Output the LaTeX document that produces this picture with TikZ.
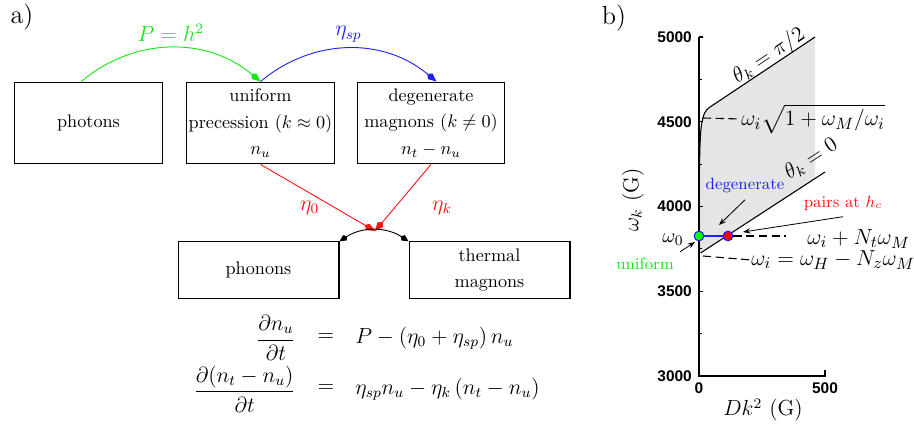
\documentclass[tikz,border=0pt]{standalone}
\usepackage{amsmath,amssymb}
\usepackage{fontspec}
\newfontfamily\tickfont{Liberation Sans}
\usetikzlibrary{arrows.meta, positioning}
\definecolor{pumpgreen}{RGB}{20,230,20}
\definecolor{spinblue}{RGB}{30,30,255}
\definecolor{relaxred}{RGB}{255,20,20}
\definecolor{shadegray}{RGB}{229,229,229}

\begin{document}
\begin{tikzpicture}[x=0.55pt, y=-0.55pt,
  box/.style={draw, line width=0.6pt, minimum width=81pt, minimum height=45pt,
    inner sep=0pt, align=center, font=\fontsize{10}{14.5}\selectfont},
  lowbox/.style={box, minimum width=88.5pt, minimum height=31pt},
  arw/.style={-{Kite[length=6.5pt, width=4pt, inset=2pt]}, line width=0.5pt},
  eqn/.style={font=\large, inner sep=0pt},
  dot/.style={circle, draw=spinblue, line width=0.6pt, minimum size=5.3pt,
    inner sep=0pt},
  lbl/.style={font=\fontsize{12.5}{14}\selectfont, inner sep=0pt},
  tick/.style={font=\tickfont\bfseries\fontsize{8.5}{10}\selectfont, inner sep=1pt},
  guide/.style={dash pattern=on 4.5pt off 2.5pt, line width=0.6pt},
  note/.style={-{Stealth[length=4pt, width=3pt]}, line width=0.45pt},
]
\useasboundingbox (0,0) rectangle (914,434);

% a) rate picture
\node[font=\Large] (tagA) at (22,17) {a)};
\node[box] (photons) at (88.5,123) {photons};
\node[box] (uniform) at (260.5,123) {uniform\\precession ($k\approx0$)\\$n_u$};
\node[box] (degen) at (431,123) {degenerate\\magnons ($k\neq0$)\\$n_t-n_u$};
\node[lowbox] (phonons) at (258.5,270) {phonons};
\node[lowbox] (thermal) at (489.5,270) {thermal\\magnons};
\coordinate (meet) at (375,231);

\draw[arw, pumpgreen] ([xshift=-4pt]photons.north) to[bend left=40]
  node[above, font=\large] {$P=h^2$} (uniform.north);
\draw[arw, spinblue] (uniform.north) to[bend left=40]
  node[above, font=\large] {$\eta_{sp}$} ([xshift=3pt]degen.north);
\draw[arw, relaxred] (uniform.south) -- node[pos=0.65, left=5pt, font=\large] {$\eta_0$} (meet);
\draw[arw, relaxred] (degen.south) -- node[pos=0.65, right=17pt, font=\large] {$\eta_k$} (meet);
\draw[{Kite[length=5pt, width=3.5pt, inset=1.5pt]}-{Kite[length=5pt, width=3.5pt, inset=1.5pt]},
  line width=0.5pt] (phonons.north east) to[bend left=33] (thermal.north west);

% rate equations
\node[eqn, anchor=east] (lhsA) at (296,338) {$\dfrac{\partial n_u}{\partial t}$};
\node[eqn] (relA) at (326,338) {$=$};
\node[eqn, anchor=west] (rhsA) at (355,338) {$P-(\eta_0+\eta_{sp})\,n_u$};
\node[eqn, anchor=east] (lhsB) at (296,389) {$\dfrac{\partial (n_t-n_u)}{\partial t}$};
\node[eqn] (relB) at (326,389) {$=$};
\node[eqn, anchor=west] (rhsB) at (355,389) {$\eta_{sp}n_u-\eta_k\,(n_t-n_u)$};

% b) spin-wave band
\node[font=\Large] (tagB) at (614,18) {b)};
\fill[shadegray] (699.5,253) -- (699.5,168) .. controls (700,128) and (701,112) .. (710,107)
  -- (815,37) -- (815,178.5) -- cycle;
\draw[line width=0.8pt] (699,37) -- (699,376) -- (825,376) -- (825,370);
\foreach \v in {3000,3500,4000,4500,5000}{
  \draw[line width=0.6pt] (699,{376-(\v-3000)*0.1695}) -- ++(4,0);
  \node[tick, anchor=east] (ytick\v) at (694,{376-(\v-3000)*0.1695}) {\v};
}
\foreach \v in {3250,3750,4250,4750}
  \draw[line width=0.6pt] (699,{376-(\v-3000)*0.1695}) -- ++(2.5,0);
\node[tick, anchor=north] (xtick0) at (699,381) {0};
\node[tick, anchor=north] (xtick500) at (825,381) {500};
\node[font=\large, rotate=90] (ylab) at (633,200) {$\omega_k$ (G)};
\node[font=\large] (xlab) at (763,410) {$Dk^2$ (G)};

\draw[line width=0.6pt] (699.5,168) .. controls (700,128) and (701,112) .. (710,107) -- (815,37);
\draw[line width=0.6pt] (700.5,253) -- (825,172);
\node[font=\large, rotate=34] (thetaA) at (769,56) {$\theta_k=\pi/2$};
\node[font=\large, rotate=33] (thetaB) at (811,159) {$\theta_k=0$};

\node[lbl, font=\fontsize{13}{15}\selectfont, anchor=west] (wsqrt) at (741,119)
  {$\omega_i\sqrt{1+\omega_M/\omega_i}$};
\node[lbl, anchor=west] (wtop) at (807,239) {$\omega_i+N_t\omega_M$};
\node[lbl, anchor=west] (wbot) at (751,260) {$\omega_i=\omega_H-N_z\omega_M$};
\draw[guide] (703,118) -- (wsqrt.west);
\draw[guide] (703,256) -- (wbot.west);

\node[dot, fill=green] (greenpt) at (699,236) {};
\node[dot, fill=red] (redpt) at (728,236) {};
\draw[spinblue, line width=1pt] (greenpt) -- (redpt);
\draw[guide] (redpt.east) -- ++(53,0);

\node[font=\fontsize{11}{13}\selectfont] (wzero) at (673,240) {$\omega_0$};
\node[font=\small, text=pumpgreen] (uniftxt) at (645,264) {uniform};
\node[font=\small, text=spinblue] (degtxt) at (745,186) {degenerate};
\node[font=\small, text=relaxred] (pairtxt) at (843,203) {pairs at $h_c$};
\coordinate (uniftip) at (695,242);
\coordinate (degtip) at (719,225);
\coordinate (pairtip) at (743,232);
\draw[note] (uniftxt.north east) -- (uniftip);
\draw[note] (degtxt.south) -- (degtip);
\draw[note] (pairtxt.south) -- (pairtip);
\end{tikzpicture}
\end{document}
